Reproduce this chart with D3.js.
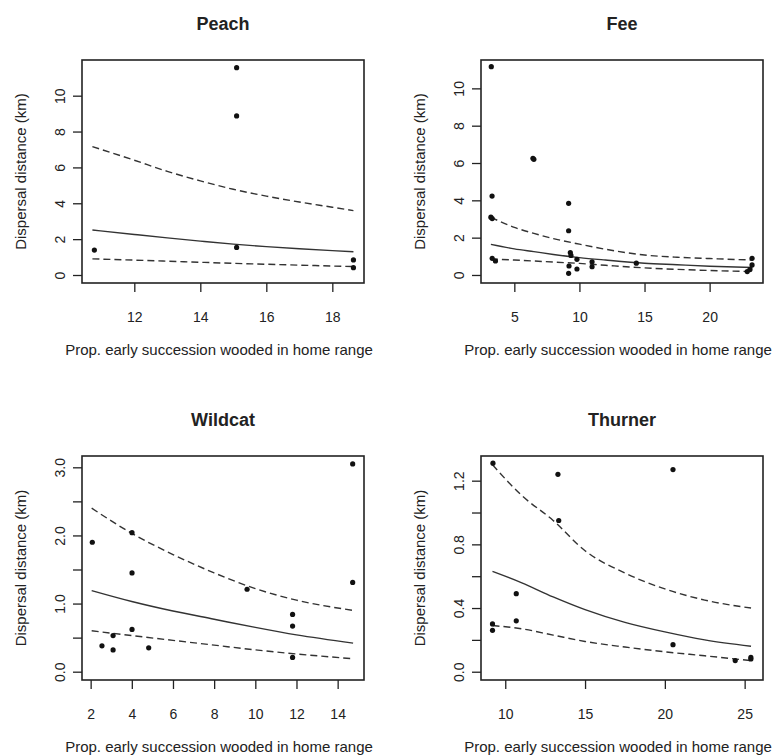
<!DOCTYPE html>
<html><head><meta charset="utf-8">
<script src="https://cdn.jsdelivr.net/npm/d3@7"></script>
<style>
body{margin:0;background:#fff;}
svg text{font-family:"Liberation Sans",Arial,Helvetica,sans-serif;fill:#222;}
</style></head><body>
<svg id="chart" width="779" height="756"></svg>
<script>
// ---------------- DATA ----------------
const panelTitles = ["Peach", "Fee", "Wildcat", "Thurner"];
const xAxisTitle = "Prop. early succession wooded in home range";
const yAxisTitle = "Dispersal distance (km)";

// Peach
const peachX = [10.79, 15.1, 15.1, 15.1, 18.64, 18.64];
const peachY = [1.39, 11.56, 8.87, 1.54, 0.84, 0.41];
const peachLineX = [10.73, 12, 13, 14, 15, 16, 17, 18, 18.64];
const peachFit   = [2.51, 2.26, 2.07, 1.89, 1.72, 1.58, 1.46, 1.36, 1.30];
const peachUpper = [7.16, 6.40, 5.78, 5.25, 4.78, 4.40, 4.07, 3.78, 3.59];
const peachLower = [0.90, 0.83, 0.77, 0.71, 0.65, 0.60, 0.55, 0.50, 0.47];
const peachXRange = [10.415, 18.96];
const peachYRange = [-0.446, 11.99];
const peachXTicks = [12, 14, 16, 18];
const peachYTicks = [0, 2, 4, 6, 8, 10];
const peachYLabels = [0, 2, 4, 6, 8, 10];

// Fee
const feeX = [3.23, 3.29, 3.2, 3.3, 3.3, 3.55, 6.43, 6.5, 9.17, 9.17, 9.3, 9.35, 9.81, 9.2, 9.81, 9.17, 10.97, 10.97, 14.37, 23.26, 23.26, 22.89, 23.1];
const feeY = [11.16, 4.23, 3.1, 3.02, 0.89, 0.75, 6.25, 6.2, 3.84, 2.37, 1.2, 1.05, 0.84, 0.48, 0.32, 0.09, 0.71, 0.44, 0.63, 0.89, 0.54, 0.18, 0.3];
const feeLineX = [3.2, 5, 6.5, 8, 10, 12, 15, 17.5, 20, 23.3];
const feeFit   = [1.64, 1.40, 1.25, 1.10, 0.93, 0.80, 0.63, 0.55, 0.47, 0.40];
const feeUpper = [3.09, 2.55, 2.23, 1.95, 1.65, 1.38, 1.07, 0.95, 0.88, 0.80];
const feeLower = [0.86, 0.80, 0.75, 0.69, 0.62, 0.52, 0.38, 0.30, 0.24, 0.18];
const feeXRange = [2.44, 24.1];
const feeYRange = [-0.43, 11.52];
const feeXTicks = [5, 10, 15, 20];
const feeYTicks = [0, 2, 4, 6, 8, 10];
const feeYLabels = [0, 2, 4, 6, 8, 10];

// Wildcat
const wildcatX = [2.08, 2.55, 3.09, 3.09, 4.01, 4.01, 4.01, 4.82, 9.60, 11.81, 11.81, 11.81, 14.73, 14.73];
const wildcatY = [1.90, 0.38, 0.53, 0.32, 2.04, 1.45, 0.62, 0.35, 1.21, 0.84, 0.67, 0.21, 3.05, 1.31];
const wildcatLineX = [2.05, 4, 6, 8, 10, 12, 14.75];
const wildcatFit   = [1.19, 1.03, 0.89, 0.77, 0.65, 0.54, 0.42];
const wildcatUpper = [2.40, 2.03, 1.72, 1.45, 1.22, 1.05, 0.90];
const wildcatLower = [0.60, 0.53, 0.46, 0.39, 0.32, 0.26, 0.19];
const wildcatXRange = [1.58, 15.28];
const wildcatYRange = [-0.122, 3.166];
const wildcatXTicks = [2, 4, 6, 8, 10, 12, 14];
const wildcatYTicks = [0, 0.5, 1, 1.5, 2, 2.5, 3];
const wildcatYLabels = [0, 1, 2, 3];

// Thurner
const thurnerX = [9.23, 9.2, 9.2, 10.69, 10.69, 13.30, 13.35, 20.51, 20.51, 24.41, 25.39, 25.39];
const thurnerY = [1.31, 0.30, 0.26, 0.49, 0.32, 1.24, 0.95, 1.27, 0.17, 0.07, 0.08, 0.09];
const thurnerLineX = [9.2, 11, 13, 15, 17.5, 20, 22.5, 25.4];
const thurnerFit   = [0.63, 0.56, 0.47, 0.39, 0.31, 0.25, 0.20, 0.16];
const thurnerUpper = [1.30, 1.11, 0.95, 0.76, 0.62, 0.52, 0.45, 0.40];
const thurnerLower = [0.29, 0.27, 0.23, 0.19, 0.155, 0.125, 0.10, 0.07];
const thurnerXRange = [8.48, 26.15];
const thurnerYRange = [-0.052, 1.355];
const thurnerXTicks = [10, 15, 20, 25];
const thurnerYTicks = [0, 0.2, 0.4, 0.6, 0.8, 1.0, 1.2];
const thurnerYLabels = [0, 0.4, 0.8, 1.2];

// ---------------- LAYOUT ----------------
const boxes = [
  {l: 82, r: 364, t: 60, b: 283},
  {l: 481, r: 763, t: 60, b: 283},
  {l: 82, r: 364, t: 456, b: 680},
  {l: 481, r: 763, t: 456, b: 680}
];

const panels = [
  {px: peachX, py: peachY, lx: peachLineX, fit: peachFit, hi: peachUpper, lo: peachLower,
   xr: peachXRange, yr: peachYRange, xt: peachXTicks, yt: peachYTicks, yl: peachYLabels, fmt: d3.format("d")},
  {px: feeX, py: feeY, lx: feeLineX, fit: feeFit, hi: feeUpper, lo: feeLower,
   xr: feeXRange, yr: feeYRange, xt: feeXTicks, yt: feeYTicks, yl: feeYLabels, fmt: d3.format("d")},
  {px: wildcatX, py: wildcatY, lx: wildcatLineX, fit: wildcatFit, hi: wildcatUpper, lo: wildcatLower,
   xr: wildcatXRange, yr: wildcatYRange, xt: wildcatXTicks, yt: wildcatYTicks, yl: wildcatYLabels, fmt: d3.format(".1f")},
  {px: thurnerX, py: thurnerY, lx: thurnerLineX, fit: thurnerFit, hi: thurnerUpper, lo: thurnerLower,
   xr: thurnerXRange, yr: thurnerYRange, xt: thurnerXTicks, yt: thurnerYTicks, yl: thurnerYLabels, fmt: d3.format(".1f")}
];

const svg = d3.select("#chart");
svg.append("rect").attr("width", 779).attr("height", 756).attr("fill", "#fff");

const ink = "#222";

panels.forEach((p, i) => {
  const bx = boxes[i];
  const x = d3.scaleLinear().domain(p.xr).range([bx.l, bx.r]);
  const y = d3.scaleLinear().domain(p.yr).range([bx.b, bx.t]);
  const g = svg.append("g");

  // title
  g.append("text")
    .attr("x", (bx.l + bx.r) / 2).attr("y", bx.t - 30)
    .attr("text-anchor", "middle")
    .style("font-size", "18px").style("font-weight", "bold")
    .text(panelTitles[i]);

  // x axis
  const xa = g.append("g")
    .attr("transform", `translate(0,${bx.b})`)
    .call(d3.axisBottom(x).tickValues(p.xt).tickSize(9).tickPadding(20).tickFormat(d3.format("d")));
  xa.select(".domain").remove();
  xa.attr("color", ink);
  xa.selectAll("line").attr("stroke-width", 1.3);
  xa.selectAll("text").style("font-size", "14px");

  // y axis
  const ya = g.append("g")
    .attr("transform", `translate(${bx.l},0)`)
    .call(d3.axisLeft(y).tickValues(p.yt).tickSize(9)
      .tickFormat(d => p.yl.some(v => Math.abs(v - d) < 1e-9) ? p.fmt(d) : ""));
  ya.select(".domain").remove();
  ya.attr("color", ink);
  ya.selectAll("line").attr("stroke-width", 1.3);
  ya.selectAll("text")
    .attr("x", 0).attr("dy", 0)
    .attr("text-anchor", "middle")
    .attr("transform", "translate(-17,0) rotate(-90)")
    .style("font-size", "14px");

  // axis titles
  g.append("text")
    .attr("x", (bx.l + bx.r) / 2 - 4).attr("y", bx.b + 72)
    .attr("text-anchor", "middle")
    .style("font-size", "15px")
    .text(xAxisTitle);
  g.append("text")
    .attr("transform", `translate(${bx.l - 56},${(bx.t + bx.b) / 2}) rotate(-90)`)
    .attr("text-anchor", "middle")
    .style("font-size", "15px")
    .text(yAxisTitle);

  // lines
  const line = d3.line().x(d => x(d[0])).y(d => y(d[1])).curve(d3.curveMonotoneX);
  const series = [
    {vals: p.hi, dash: "7,4"},
    {vals: p.fit, dash: null},
    {vals: p.lo, dash: "7,4"}
  ];
  series.forEach(s => {
    g.append("path")
      .datum(p.lx.map((v, k) => [v, s.vals[k]]))
      .attr("d", line)
      .attr("fill", "none")
      .attr("stroke", "#333")
      .attr("stroke-width", 1.4)
      .attr("stroke-dasharray", s.dash);
  });

  // points
  g.selectAll("circle.pt")
    .data(p.px.map((v, k) => [v, p.py[k]]))
    .join("circle")
    .attr("class", "pt")
    .attr("cx", d => x(d[0])).attr("cy", d => y(d[1]))
    .attr("r", 2.6).attr("fill", "#111");

  // frame
  g.append("rect")
    .attr("x", bx.l).attr("y", bx.t)
    .attr("width", bx.r - bx.l).attr("height", bx.b - bx.t)
    .attr("fill", "none").attr("stroke", ink).attr("stroke-width", 1.6);
});
</script>
</body></html>
